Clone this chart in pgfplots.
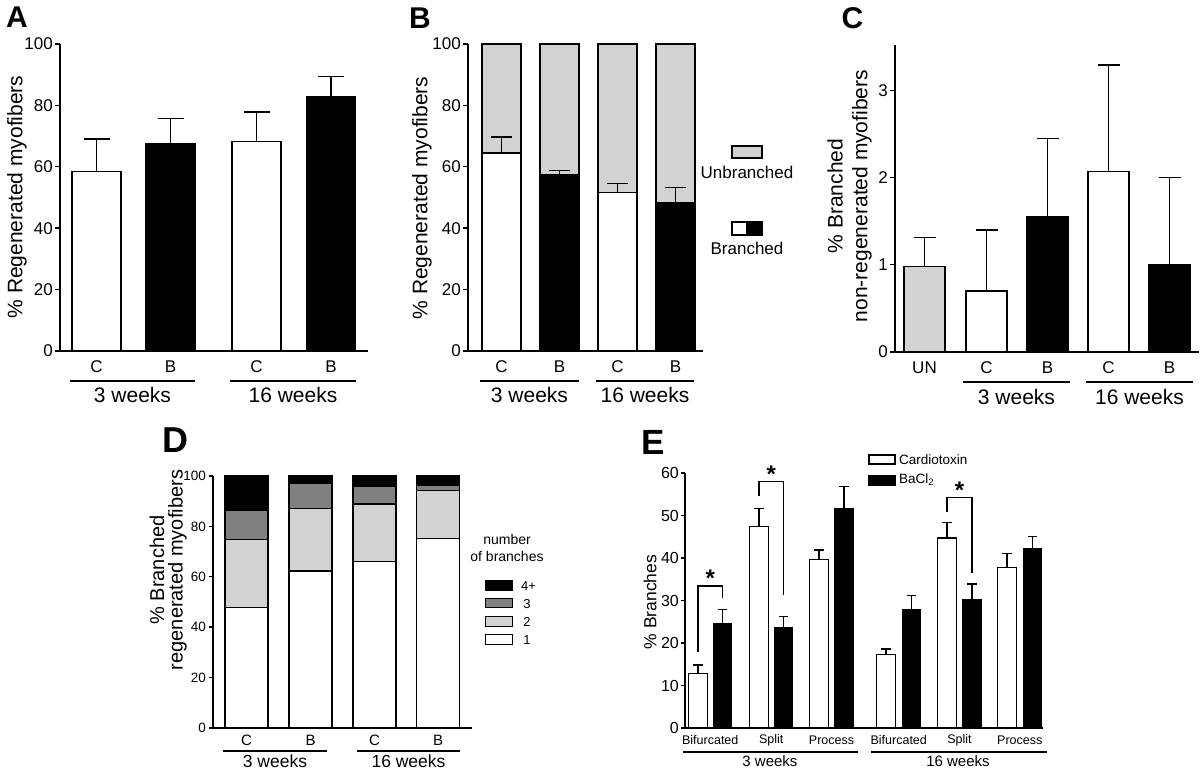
\documentclass[border=0pt]{standalone}
\usepackage{pgfplots}
\pgfplotsset{compat=1.18}
\usepackage{fontspec}
\setmainfont{Liberation Sans}
\definecolor{lgray}{RGB}{210,210,210}
\definecolor{mgray}{RGB}{128,128,128}
\newcommand{\fs}[1]{\fontsize{#1}{#1}\selectfont}
\pgfplotsset{
  panel/.style={
    scale only axis, anchor=south west,
    axis x line*=bottom, axis y line*=left,
    axis line style={-, line width=1.6pt},
    tick align=outside, major tick length=5pt,
    ytick style={line width=1.4pt, black},
    xtick style={draw=none},
    enlargelimits=false,
    /pgf/number format/assume math mode=true,
    clip=false,
  },
  errbar/.style n args={3}{
    ybar, bar shift=0pt, bar width=#1, draw=black, line width=#3,
    error bars/y dir=plus, error bars/y explicit,
    error bars/error bar style={line width=#3, black},
    error bars/error mark=-,
    error bars/error mark options={rotate=90, line width=#3, black, mark size=#2},
  },
}
\begin{document}
\begin{tikzpicture}[x=1pt,y=1pt]

% ---------------- Panel A ----------------
\begin{axis}[panel, at={(60pt,419pt)}, width=308pt, height=307pt,
  xmin=0, xmax=308, ymin=0, ymax=100,
  ytick={0,20,40,60,80,100},
  xtick={36.5,110.5,196.5,271}, xticklabels={C,B,C,B},
  yticklabel style={font=\fs{17}, inner sep=2pt},
  xticklabel style={font=\fs{17}, anchor=center, yshift=-11pt}]
\addplot[errbar={49pt}{13pt}{1.4pt}, fill=white] coordinates {(36.5,58.5) +- (0,10.5) (196.5,68.3) +- (0,9.5)};
\addplot[errbar={49pt}{13pt}{1.4pt}, fill=black] coordinates {(110.5,67.5) +- (0,8.2) (271,82.8) +- (0,6.7)};
\end{axis}

% ---------------- Panel B ----------------
\begin{axis}[panel, at={(468pt,419pt)}, width=235pt, height=307pt,
  xmin=0, xmax=235, ymin=0, ymax=100,
  ytick={0,20,40,60,80,100},
  xtick={33.5,91.5,149.5,207.5}, xticklabels={C,B,C,B},
  yticklabel style={font=\fs{17}, inner sep=2pt},
  xticklabel style={font=\fs{17}, anchor=center, yshift=-11pt}]
\addplot[ybar, bar shift=0pt, bar width=39pt, fill=lgray, draw=black, line width=1.3pt] coordinates {(33.5,100) (91.5,100) (149.5,100) (207.5,100)};
\addplot[errbar={39pt}{10.5pt}{1.4pt}, fill=white] coordinates {(33.5,64.5) +- (0,5.2) (149.5,51.7) +- (0,2.8)};
\addplot[errbar={39pt}{10.5pt}{1.4pt}, fill=black] coordinates {(91.5,57.3) +- (0,1.5) (207.5,48.2) +- (0,5.1)};
\end{axis}

% ---------------- Panel C ----------------
\begin{axis}[panel, at={(895pt,418pt)}, width=304pt, height=307pt,
  xmin=0, xmax=304, ymin=0, ymax=3.52,
  ytick={0,1,2,3},
  xtick={29.5,91.5,152.5,213.5,274.5}, xticklabels={UN,C,B,C,B},
  yticklabel style={font=\fs{17}, inner sep=2pt},
  xticklabel style={font=\fs{17}, anchor=center, yshift=-11pt}]
\addplot[errbar={41pt}{11pt}{1.4pt}, fill=lgray] coordinates {(29.5,0.98) +- (0,0.33)};
\addplot[errbar={41pt}{11pt}{1.4pt}, fill=white] coordinates {(91.5,0.70) +- (0,0.70) (213.5,2.07) +- (0,1.22)};
\addplot[errbar={41pt}{11pt}{1.4pt}, fill=black] coordinates {(152.5,1.55) +- (0,0.90) (274.5,1.00) +- (0,1.00)};
\end{axis}

% ---------------- Panel D ----------------
\begin{axis}[panel, at={(213pt,42pt)}, width=259pt, height=252pt,
  xmin=0, xmax=259, ymin=0, ymax=100,
  ybar stacked, bar width=43pt,
  ytick={0,20,40,60,80,100},
  xtick={33.5,97.5,161.5,225}, xticklabels={C,B,C,B},
  major tick length=4pt,
  yticklabel style={font=\fs{13.5}, inner sep=3pt},
  xticklabel style={font=\fs{15}, anchor=center, yshift=-8pt}]
\addplot[fill=white, draw=black, line width=1.1pt] coordinates {(33.5,47.8) (97.5,62.3) (161.5,65.9) (225,75.1)};
\addplot[fill=lgray, draw=black, line width=1.1pt] coordinates {(33.5,27.1) (97.5,24.9) (161.5,23.0) (225,19.1)};
\addplot[fill=mgray, draw=black, line width=1.1pt] coordinates {(33.5,11.6) (97.5,10.0) (161.5,6.9) (225,2.2)};
\addplot[fill=black, draw=black, line width=1.1pt] coordinates {(33.5,13.5) (97.5,2.8) (161.5,4.2) (225,3.6)};
\end{axis}

% ---------------- Panel E ----------------
\begin{axis}[panel, at={(685pt,42pt)}, width=358pt, height=255pt,
  xmin=0, xmax=358, ymin=0, ymax=60,
  ytick={0,10,20,30,40,50,60},
  xtick={25.25,86.25,146.5,213.75,274.5,334.75},
  xticklabels={Bifurcated,Split,Process,Bifurcated,Split,Process},
  major tick length=4pt,
  yticklabel style={font=\fs{16}, inner sep=2pt},
  xticklabel style={font=\fs{12.5}, anchor=center, yshift=-8pt}]
\addplot[errbar={18.5pt}{4.7pt}{1.3pt}, fill=white] coordinates {(13,12.8) +- (0,2.0) (74,47.4) +- (0,4.2) (134,39.7) +- (0,2.2) (201,17.3) +- (0,1.3) (262,44.7) +- (0,3.6) (322,37.8) +- (0,3.3)};
\addplot[errbar={18.5pt}{4.7pt}{1.3pt}, fill=black] coordinates {(37.5,24.6) +- (0,3.3) (98.5,23.7) +- (0,2.5) (159,51.6) +- (0,5.2) (226.5,27.8) +- (0,3.3) (287,30.1) +- (0,3.8) (347.5,42.1) +- (0,2.9)};
\draw[line width=1.3pt] (axis cs:13,17.9) -- (axis cs:13,33.4) -- (axis cs:37.5,33.4) -- (axis cs:37.5,30.5);
\draw[line width=1.3pt] (axis cs:74,54.5) -- (axis cs:74,58) -- (axis cs:98.5,58) -- (axis cs:98.5,31.3);
\draw[line width=1.3pt] (axis cs:262,50.8) -- (axis cs:262,54.2) -- (axis cs:287,54.2) -- (axis cs:287,36.4);
\node[font=\bfseries\fs{24}, inner sep=0] at (axis cs:25.25,35.2) {*};
\node[font=\bfseries\fs{24}, inner sep=0] at (axis cs:86.25,59.8) {*};
\node[font=\bfseries\fs{24}, inner sep=0] at (axis cs:274.5,56) {*};
\end{axis}

% ---------------- annotations ----------------
% panel letters
\node[font=\bfseries\fs{30}, inner sep=0] at (17,752.5) {A};
\node[font=\bfseries\fs{30}, inner sep=0] at (420,752) {B};
\node[font=\bfseries\fs{30}, inner sep=0] at (852.5,752) {C};
\node[font=\bfseries\fs{36}, inner sep=0] at (175,330) {D};
\node[font=\bfseries\fs{35}, inner sep=0] at (653.5,327.5) {E};

% y labels
\node[rotate=90, font=\fs{21}, inner sep=0] at (17,573) {\% Regenerated myofibers};
\node[rotate=90, font=\fs{21}, inner sep=0] at (422,572) {\% Regenerated myofibers};
\node[rotate=90, font=\fs{21}, inner sep=0] at (835,574) {\% Branched};
\node[rotate=90, font=\fs{21}, inner sep=0] at (862,574) {non-regenerated myofibers};
\node[rotate=90, font=\fs{20}, inner sep=0] at (157,200) {\% Branched};
\node[rotate=90, font=\fs{20}, inner sep=0] at (177.5,200) {regenerated myofibers};
\node[rotate=90, font=\fs{17.5}, inner sep=0] at (650,168) {\% Branches};

% group lines and labels
\begin{scope}[line width=2.6pt]
\draw (70,389) -- (195,389);   \draw (230,389) -- (356,389);
\draw (480,389) -- (579,389);  \draw (596,389) -- (694,389);
\draw (963,388) -- (1070,388); \draw (1086,388) -- (1193,388);
\draw (223,19) -- (327,19);    \draw (357,19) -- (460,19);
\draw (683,18) -- (858,18);    \draw (871,18) -- (1047,18);
\end{scope}
\node[font=\fs{21}, inner sep=0] at (132.5,375) {3 weeks};
\node[font=\fs{21}, inner sep=0] at (293,375) {16 weeks};
\node[font=\fs{21}, inner sep=0] at (529.5,375) {3 weeks};
\node[font=\fs{21}, inner sep=0] at (645,375) {16 weeks};
\node[font=\fs{21}, inner sep=0] at (1016.5,373) {3 weeks};
\node[font=\fs{21}, inner sep=0] at (1139.5,373) {16 weeks};
\node[font=\fs{17.5}, inner sep=0] at (275,9) {3 weeks};
\node[font=\fs{17.5}, inner sep=0] at (408.5,9) {16 weeks};
\node[font=\fs{15}, inner sep=0] at (770,8.5) {3 weeks};
\node[font=\fs{15}, inner sep=0] at (958,8.5) {16 weeks};

% legend B
\draw[line width=2pt, fill=lgray] (732,612) rectangle (762,624);
\node[font=\fs{17}, inner sep=0] at (747,598) {Unbranched};
\draw[line width=2pt, fill=black] (747,535) rectangle (762,548);
\draw[line width=2pt, fill=white] (732,535) rectangle (747,548);
\node[font=\fs{17}, inner sep=0] at (747,522) {Branched};

% legend D
\node[font=\fs{14}, inner sep=0] at (507,230) {number};
\node[font=\fs{14}, inner sep=0] at (507,213) {of branches};
\draw[line width=1pt, fill=black] (485,179) rectangle (512,189);
\draw[line width=1pt, fill=mgray] (485,162) rectangle (512,171);
\draw[line width=1pt, fill=lgray] (485,143) rectangle (512,153);
\draw[line width=1pt, fill=white] (485,125) rectangle (512,135);
\node[font=\fs{13}, inner sep=0, anchor=west] at (521,184) {4+};
\node[font=\fs{13}, inner sep=0] at (527,166) {3};
\node[font=\fs{13}, inner sep=0] at (527,148) {2};
\node[font=\fs{13}, inner sep=0] at (527,130) {1};

% legend E
\draw[line width=1.3pt, fill=white] (869,306) rectangle (895,315);
\draw[line width=1.3pt, fill=black] (869,285) rectangle (895,294);
\node[font=\fs{13.5}, inner sep=0, anchor=west] at (899,310) {Cardiotoxin};
\node[font=\fs{13.5}, inner sep=0, anchor=west] at (899,290) {BaCl\textsubscript{2}};

\pgfresetboundingbox
\path (0,0) rectangle (1200,770);
\end{tikzpicture}
\end{document}
